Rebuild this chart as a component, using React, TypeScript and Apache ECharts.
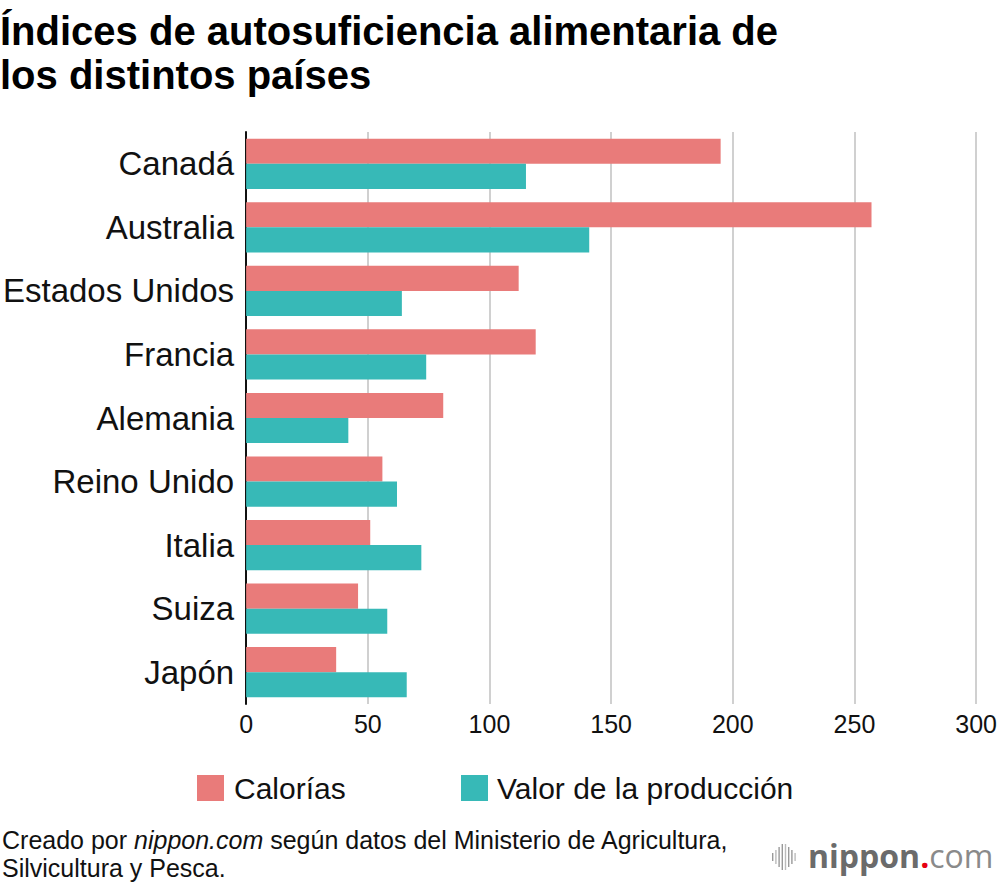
import React, { useEffect, useRef } from "react";
import * as echarts from "echarts";

const categories = [
  "Canadá",
  "Australia",
  "Estados Unidos",
  "Francia",
  "Alemania",
  "Reino Unido",
  "Italia",
  "Suiza",
  "Japón",
];
const calorias = [195, 257, 112, 119, 81, 56, 51, 46, 37];
const valorProduccion = [115, 141, 64, 74, 42, 62, 72, 58, 66];
const xTicks = [0, 50, 100, 150, 200, 250, 300];
const seriesNames = ["Calorías", "Valor de la producción"];

const PINK = "#e97b7a";
const TEAL = "#37b9b7";
const FONT = "'Liberation Sans', Arial, Helvetica, sans-serif";

export default function App() {
  const ref = useRef<HTMLDivElement>(null);

  useEffect(() => {
    if (!ref.current) return;
    const chart = echarts.init(ref.current, null, { renderer: "svg" });

    const logoBars = [8, 14, 20, 26, 26, 20, 14, 8];
    const logoGraphics: any[] = logoBars.map((h, i) => ({
      type: "rect",
      shape: { x: 772 + i * 3.2, y: 857 - h / 2, width: 1.4, height: h },
      style: { fill: i % 3 === 1 ? "#bbb" : "#999" },
      silent: true,
    }));

    chart.setOption({
      animation: false,
      textStyle: { fontFamily: FONT },
      title: {
        text: "Índices de autosuficiencia alimentaria de\nlos distintos países",
        left: 0,
        top: 9,
        padding: 0,
        textStyle: {
          fontFamily: FONT,
          fontSize: 40,
          fontWeight: "bold",
          lineHeight: 44,
          color: "#000",
        },
      },
      legend: [
        {
          data: [seriesNames[0]],
          left: 192,
          top: 768,
          itemWidth: 27,
          itemHeight: 26,
          icon: "rect",
          selectedMode: false,
          textStyle: { fontSize: 30, color: "#111", fontFamily: FONT, padding: [0, 0, 0, 5] },
        },
        {
          data: [seriesNames[1]],
          left: 456,
          top: 768,
          itemWidth: 27,
          itemHeight: 26,
          icon: "rect",
          selectedMode: false,
          textStyle: { fontSize: 30, color: "#111", fontFamily: FONT, padding: [0, 0, 0, 4] },
        },
      ],
      grid: { left: 245, right: 23, top: 132, bottom: 180, containLabel: false },
      xAxis: {
        type: "value",
        min: xTicks[0],
        max: xTicks[xTicks.length - 1],
        interval: 50,
        axisLine: { show: false },
        axisTick: { show: false },
        splitLine: { show: true, lineStyle: { color: "#d0d0d0", width: 2 } },
        axisLabel: { fontSize: 25, color: "#111", margin: 7, fontFamily: FONT },
      },
      yAxis: {
        type: "category",
        data: categories,
        inverse: true,
        axisLine: { show: true, lineStyle: { color: "#111", width: 2 } },
        axisTick: { show: false },
        axisLabel: { fontSize: 33, color: "#111", margin: 12, fontFamily: FONT },
      },
      series: [
        {
          name: seriesNames[0],
          type: "bar",
          data: calorias,
          itemStyle: { color: PINK },
          barGap: "0%",
          barCategoryGap: "21%",
        },
        {
          name: seriesNames[1],
          type: "bar",
          data: valorProduccion,
          itemStyle: { color: TEAL },
          barGap: "0%",
          barCategoryGap: "21%",
        },
      ],
      graphic: [
        {
          type: "text",
          left: 2,
          top: 826,
          style: {
            text: "Creado por {i|nippon.com} según datos del Ministerio de Agricultura,\nSilvicultura y Pesca.",
            fontSize: 25,
            lineHeight: 28,
            fontFamily: FONT,
            fill: "#111",
            rich: {
              i: { fontStyle: "italic", fontSize: 25, fontFamily: FONT, fill: "#111" },
            },
          },
        },
        ...logoGraphics,
        {
          type: "text",
          left: 808,
          top: 839,
          style: {
            text: "{a|nippon}{d|.}{c|com}",
            rich: {
              a: { fontFamily: "'Open Sans', sans-serif", fontWeight: "bold", fontSize: 32, fill: "#6b6b6b" },
              d: { fontFamily: "'Open Sans', sans-serif", fontWeight: "bold", fontSize: 32, fill: "#e60012" },
              c: { fontFamily: "'Open Sans', sans-serif", fontWeight: "normal", fontSize: 32, fill: "#8a8a8a" },
            },
          },
        },
      ],
    });

    return () => chart.dispose();
  }, []);

  return (
    <div
      ref={ref}
      style={{ position: "fixed", left: 0, top: 0, width: 1000, height: 884, background: "#fff" }}
    />
  );
}
